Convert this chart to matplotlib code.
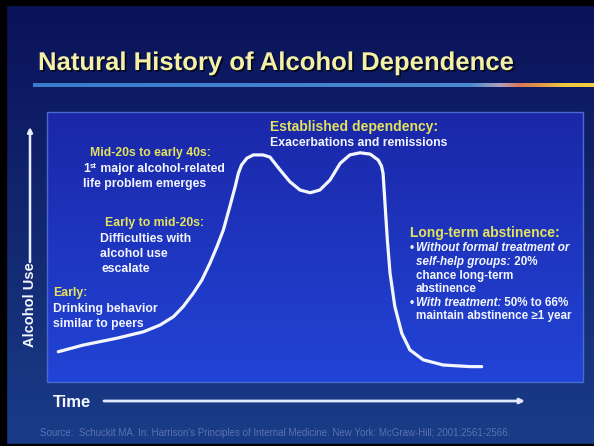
import numpy as np
import matplotlib
matplotlib.use('Agg')
import matplotlib.pyplot as plt
import matplotlib.colors as mcolors
import matplotlib.patheffects as pe
from matplotlib import font_manager
from matplotlib.patches import Rectangle

# Alcohol use curve (time and use in % of the box)
time_pts = [2.1, 6.8, 13.0, 18.0, 21.1, 23.6, 25.4, 27.3, 28.9, 30.4, 31.7, 32.9,
            34.1, 35.1, 35.7, 36.3, 37.3, 38.5, 40.3, 41.6, 43.5, 45.3, 47.2, 49.1,
            50.9, 52.8, 54.7, 56.5, 58.4, 60.3, 61.8, 62.4, 62.7, 63.1, 63.5, 64.0,
            64.9, 66.2, 67.7, 70.2, 73.9, 78.9, 81.1]
use_pts = [11.2, 13.7, 16.2, 18.6, 21.1, 24.2, 27.9, 32.9, 37.8, 44.0, 50.1, 56.3,
           64.9, 72.3, 77.3, 80.4, 82.9, 84.1, 84.1, 83.3, 78.5, 74.2, 71.1, 70.1,
           71.1, 74.8, 81.0, 84.1, 84.9, 84.4, 82.2, 80.0, 77.3, 64.9, 52.6, 40.3,
           27.9, 18.0, 11.9, 8.2, 6.3, 5.7, 5.7]

title = "Natural History of Alcohol Dependence"
source = ("Source:  Schuckit MA. In: Harrison's Principles of Internal Medicine. "
          "New York: McGraw-Hill; 2001:2561-2566.")

names = {f.name for f in font_manager.fontManager.ttflist}
NARROW = 'Liberation Sans Narrow' if 'Liberation Sans Narrow' in names else 'Liberation Sans'
SANS = 'Liberation Sans'
YELLOW = '#e2e25e'
WHITE = '#f4f6ff'


def vgrad(c1, c2, n=256):
    a = np.array(mcolors.to_rgb(c1))
    b = np.array(mcolors.to_rgb(c2))
    t = np.linspace(0, 1, n)[:, None]
    return (a * (1 - t) + b * t)[:, None, :]


fig = plt.figure(figsize=(5.94, 4.46), dpi=100)
bg = fig.add_axes([0, 0, 1, 1])
bg.set_xlim(0, 594)
bg.set_ylim(446, 0)
bg.axis('off')

# slide background
bg.imshow(vgrad('#0a1258', '#1a3c88'), extent=[0, 594, 446, 0], aspect='auto', zorder=0)
bg.add_patch(Rectangle((0, 0), 6, 446, color='black', zorder=1))
bg.add_patch(Rectangle((0, 0), 594, 5, color='black', zorder=1))
bg.add_patch(Rectangle((0, 444), 594, 2, color='black', zorder=1))

# title + gradient underline
tsize = 22.6 if NARROW != SANS else 18.5
bg.text(38, 70, title, fontsize=tsize, fontweight='bold', family=NARROW,
        color='#f4f0a6', va='baseline', zorder=3,
        path_effects=[pe.withSimplePatchShadow(offset=(1.2, -1.2), shadow_rgbFace='black', alpha=0.7)])
xs = np.linspace(33, 594, 600)
stops = [33, 470, 500, 520, 540, 565, 594]
cols = np.array([mcolors.to_rgb(c) for c in
                 ['#3a7ccc', '#4a88d0', '#b0a0c0', '#d87858', '#e09848', '#f0c840', '#f0d040']])
line = np.stack([np.interp(xs, stops, cols[:, i]) for i in range(3)], axis=-1)[None, :, :]
bg.imshow(line, extent=[33, 594, 87, 83], aspect='auto', zorder=2)

# inner box
bg.imshow(vgrad('#1a27a8', '#2244d6'), extent=[47, 583, 382, 112], aspect='auto', zorder=2)
bg.add_patch(Rectangle((47, 112), 536, 270, fill=False, edgecolor='#4a6ad0', lw=1, zorder=3))

# axis arrows
bg.annotate('', xy=(30, 127), xytext=(30, 262),
            arrowprops=dict(arrowstyle='-|>', color='#e8eeff', lw=1.8, mutation_scale=7,
                            shrinkA=0, shrinkB=0), zorder=3)
bg.text(30, 305, 'Alcohol Use', rotation=90, ha='center', va='center', fontsize=10.5,
        fontweight='bold', family=SANS, color=WHITE, zorder=3)
bg.annotate('', xy=(525, 401), xytext=(104, 401),
            arrowprops=dict(arrowstyle='-|>', color='#dfe8ff', lw=2, mutation_scale=7,
                            shrinkA=0, shrinkB=0), zorder=3)
bg.text(53, 407, 'Time', va='baseline', fontsize=12, fontweight='bold', family=SANS,
        color=WHITE, zorder=3)
bg.text(40, 433, source, va='center', fontsize=7.0, family=SANS, color='#5a72ae', zorder=3)


def runs(x, y, parts, size, color=WHITE):
    t = None
    for s, style in parts:
        kw = dict(fontsize=size, fontweight='bold', color=color, family=SANS,
                  fontstyle=style, va='center', ha='left', zorder=4)
        if t is None:
            t = bg.text(x, y, s, **kw)
        else:
            t = bg.annotate(s, xy=(1, 0.5), xycoords=t, **kw)
    return t


fs = 8.8
# early
runs(53, 293, [('Early:', 'normal')], fs, YELLOW)
runs(53, 309, [('Drinking behavior', 'normal')], fs)
runs(53, 324, [('similar to peers', 'normal')], fs)
# early to mid-20s
runs(105, 223, [('Early to mid-20s:', 'normal')], fs, YELLOW)
runs(100, 239, [('Difficulties with', 'normal')], fs)
runs(100, 254, [('alcohol use', 'normal')], fs)
runs(101, 269, [('escalate', 'normal')], fs)
# mid-20s to early 40s
runs(90, 153, [('Mid-20s to early 40s:', 'normal')], fs, YELLOW)
one = runs(83, 169, [('1', 'normal')], fs)
st = bg.annotate('st', xy=(1, 1), xycoords=one, va='top', ha='left', fontsize=5.5,
                 fontweight='bold', family=SANS, color=WHITE, zorder=4)
bg.annotate(' major alcohol-related', xy=(1, 0.5), xycoords=(st, one), va='center', ha='left',
            fontsize=fs, fontweight='bold', family=SANS, color=WHITE, zorder=4)
runs(83, 184, [('life problem emerges', 'normal')], fs)
# established dependency
runs(270, 127, [('Established dependency:', 'normal')], 10, YELLOW)
runs(270, 143, [('Exacerbations and remissions', 'normal')], fs)
# long-term abstinence
ls = 8.4
runs(410, 233, [('Long-term abstinence:', 'normal')], 10, YELLOW)
runs(410, 248, [('•', 'normal')], ls)
runs(416, 248, [('Without formal treatment or', 'italic')], ls)
runs(416, 262, [('self-help groups:', 'italic'), (' 20%', 'normal')], ls)
runs(416, 275.5, [('chance long-term', 'normal')], ls)
runs(416, 289, [('abstinence', 'normal')], ls)
runs(410, 302.5, [('•', 'normal')], ls)
runs(416, 302.5, [('With treatment:', 'italic'), (' 50% to 66%', 'normal')], ls)
runs(416, 316, [('maintain abstinence ≥1 year', 'normal')], ls)

# curve
ax = fig.add_axes([47 / 594, (446 - 382) / 446, 536 / 594, 270 / 446])
ax.set_xlim(0, 100)
ax.set_ylim(0, 100)
ax.axis('off')
ax.patch.set_alpha(0)
ax.plot(time_pts, use_pts, color=WHITE, lw=2.3, solid_capstyle='round', solid_joinstyle='round')

fig.savefig('out.png', dpi=100)
